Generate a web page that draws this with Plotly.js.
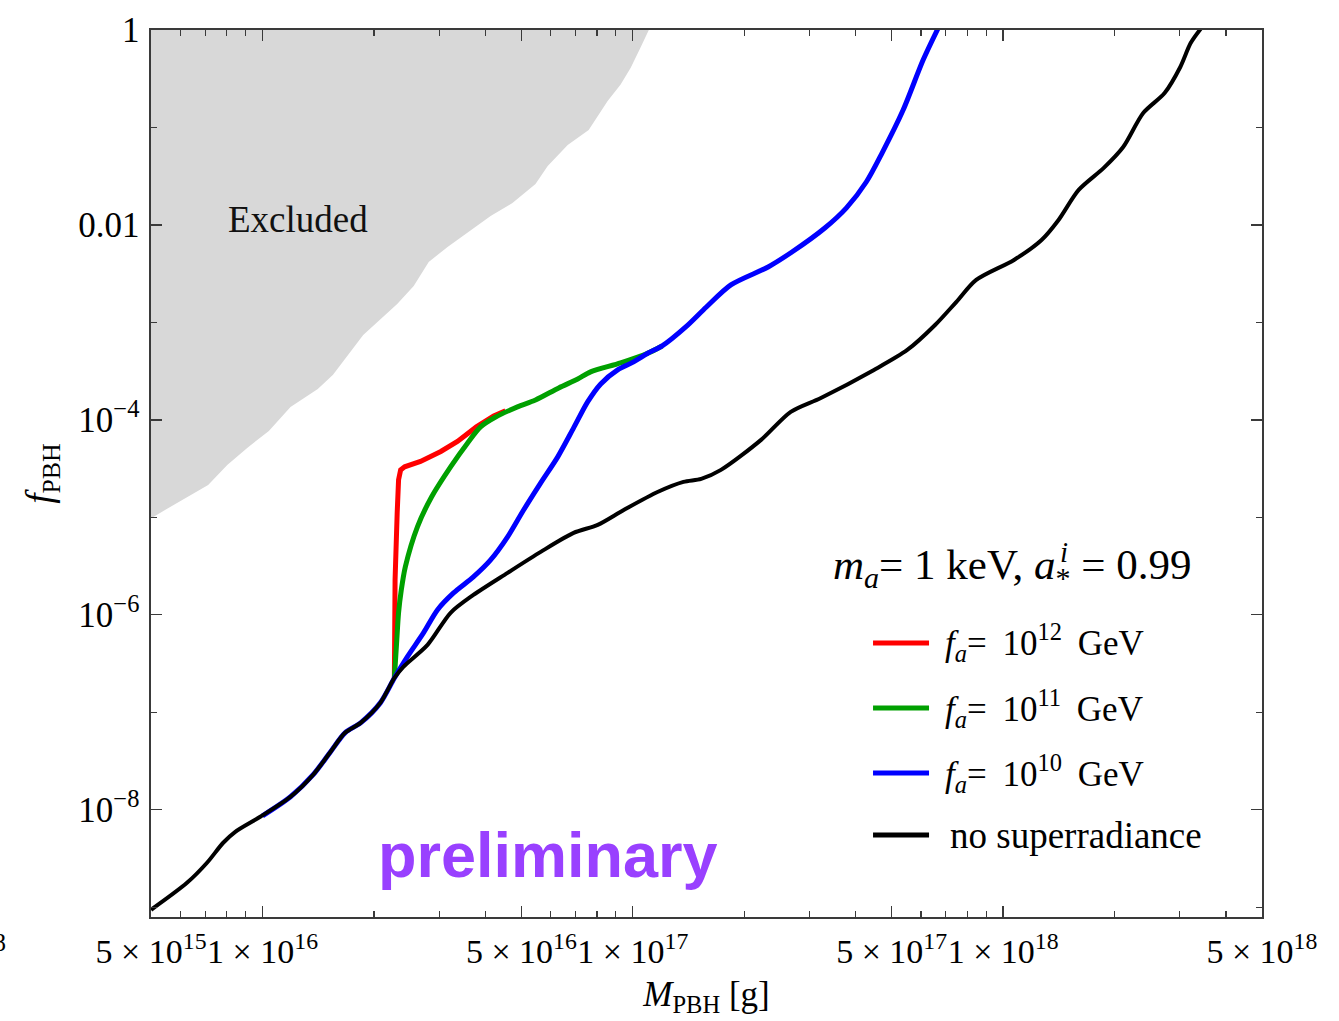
<!DOCTYPE html>
<html>
<head>
<meta charset="utf-8">
<script src="https://cdn.plot.ly/plotly-3.0.1.min.js"></script>
<style>
  html, body { margin: 0; padding: 0; background: #ffffff; }
  #plot { width: 1339px; height: 1021px; }
</style>
</head>
<body>
<div id="plot"></div>
<script>
// PBH abundance bound vs. mass, m_a = 1 keV, a*_i = 0.99

// no superradiance
const massNoSR = [5.0e15, 6.25e15, 7.08e15, 7.83e15, 8.44e15, 9.86e15, 1.19e16, 1.37e16, 1.52e16, 1.67e16,
  1.84e16, 2.08e16, 2.27e16, 2.40e16, 2.79e16, 3.22e16, 3.71e16, 4.59e16, 5.64e16, 6.92e16,
  8.04e16, 9.45e16, 1.17e17, 1.37e17, 1.53e17, 1.73e17, 2.22e17, 2.67e17, 3.22e17, 4.48e17,
  5.51e17, 6.55e17, 7.47e17, 8.46e17, 1.07e18, 1.27e18, 1.41e18, 1.60e18, 1.87e18, 2.11e18,
  2.39e18, 2.73e18, 3.01e18, 3.21e18, 3.43e18];
const fNoSR = [9.42e-10, 1.78e-9, 2.86e-9, 4.59e-9, 5.94e-9, 8.48e-9, 1.36e-8, 2.29e-8, 3.85e-8, 6.16e-8,
  7.80e-8, 1.25e-7, 2.25e-7, 2.93e-7, 4.92e-7, 1.05e-6, 1.60e-6, 2.70e-6, 4.43e-6, 6.93e-6,
  8.38e-6, 1.19e-5, 1.83e-5, 2.31e-5, 2.48e-5, 3.07e-5, 6.24e-5, 1.21e-4, 1.68e-4, 3.26e-4,
  5.22e-4, 9.42e-4, 1.62e-3, 2.73e-3, 4.38e-3, 7.02e-3, 1.12e-2, 2.29e-2, 3.85e-2, 6.31e-2,
  0.141, 0.226, 0.418, 0.735, 1.05];

// f_a = 1e10 GeV
const massFa10 = [1.00e16, 1.19e16, 1.37e16, 1.52e16, 1.67e16, 1.84e16, 2.08e16, 2.27e16, 2.46e16, 2.72e16,
  2.97e16, 3.28e16, 3.71e16, 4.13e16, 4.59e16, 5.07e16, 5.64e16, 6.27e16, 6.92e16, 7.55e16,
  8.19e16, 9.10e16, 1.005e17, 1.10e17, 1.20e17, 1.39e17, 1.58e17, 1.84e17, 2.32e17, 2.69e17,
  3.30e17, 3.77e17, 4.27e17, 4.71e17, 5.37e17, 6.08e17, 6.68e17];
const fFa10 = [8.68e-9, 1.36e-8, 2.29e-8, 3.85e-8, 6.16e-8, 7.80e-8, 1.25e-7, 2.25e-7, 3.71e-7, 6.53e-7,
  1.13e-6, 1.68e-6, 2.45e-6, 3.66e-6, 6.31e-6, 1.19e-5, 2.26e-5, 4.18e-5, 8.28e-5, 1.53e-4,
  2.34e-4, 3.26e-4, 3.94e-4, 4.86e-4, 5.74e-4, 8.99e-4, 1.44e-3, 2.43e-3, 3.71e-3, 5.28e-3,
  9.31e-3, 1.49e-2, 2.76e-2, 5.47e-2, 0.151, 0.492, 1.05];

// f_a = 1e11 GeV
const massFa11 = [2.27e16, 2.30e16, 2.33e16, 2.37e16, 2.43e16, 2.62e16, 2.86e16, 3.22e16, 3.58e16, 3.88e16,
  4.26e16, 4.88e16, 5.46e16, 6.31e16, 7.10e16, 7.69e16, 9.27e16, 1.10e17, 1.20e17];
const fFa11 = [2.25e-7, 4.92e-7, 1.05e-6, 1.80e-6, 3.11e-6, 8.00e-6, 1.62e-5, 3.30e-5, 5.81e-5, 8.48e-5,
  1.07e-4, 1.36e-4, 1.60e-4, 2.13e-4, 2.63e-4, 3.11e-4, 3.85e-4, 4.86e-4, 5.74e-4];

// f_a = 1e12 GeV
const massFa12 = [2.27e16, 2.28e16, 2.31e16, 2.33e16, 2.36e16, 2.42e16, 2.67e16, 3.03e16, 3.36e16, 3.78e16,
  4.21e16, 4.53e16];
const fFa12 = [2.25e-7, 2.29e-6, 1.11e-5, 2.43e-5, 3.07e-5, 3.30e-5, 3.75e-5, 4.75e-5, 6.01e-5, 8.48e-5,
  1.10e-4, 1.24e-4];

// boundary of the excluded region
const massExcl = [4.82e15, 5.07e15, 5.63e15, 6.38e15, 7.13e15, 8.03e15, 9.09e15, 1.04e16, 1.19e16, 1.41e16,
  1.55e16, 1.87e16, 2.31e16, 2.56e16, 2.81e16, 3.16e16, 3.65e16, 4.13e16, 4.73e16, 5.46e16,
  5.89e16, 6.67e16, 7.60e16, 8.55e16, 9.27e16, 9.87e16, 1.05e17, 1.10e17, 1.12e17];
const fExcl = [9.2e-6, 1.01e-5, 1.28e-5, 1.70e-5, 2.15e-5, 3.45e-5, 5.16e-5, 7.71e-5, 1.36e-4, 2.08e-4,
  2.90e-4, 7.45e-4, 1.55e-3, 2.37e-3, 4.18e-3, 5.94e-3, 8.89e-3, 1.24e-2, 1.68e-2, 2.63e-2,
  4.03e-2, 6.62e-2, 9.42e-2, 0.187, 0.276, 0.411, 0.665, 1.0, 1.12];

// axis ticks
const xTickVals = [5e15, 1e16, 5e16, 1e17, 5e17, 1e18, 5e18];
const xTickText = ['5 × 10<sup>15</sup>', '1 × 10<sup>16</sup>', '5 × 10<sup>16</sup>', '1 × 10<sup>17</sup>',
  '5 × 10<sup>17</sup>', '1 × 10<sup>18</sup>', '5 × 10<sup>18</sup>'];
const xMinorVals = [6e15, 7e15, 8e15, 9e15, 2e16, 3e16, 4e16, 6e16, 7e16, 8e16, 9e16,
  2e17, 3e17, 4e17, 6e17, 7e17, 8e17, 9e17, 2e18, 3e18, 4e18];
const yTickVals = [1, 1e-2, 1e-4, 1e-6, 1e-8];
const yTickText = ['1', '0.01', '10<sup>−4</sup>', '10<sup>−6</sup>', '10<sup>−8</sup>'];
const yMinorVals = [1e-1, 1e-3, 1e-5, 1e-7, 1e-9];

// legend entries
const SP = ' \u2009';
const legendNames = ['<i>f</i><sub><i>a</i></sub>=' + SP + '10<sup>12</sup>' + SP + 'GeV',
                     '<i>f</i><sub><i>a</i></sub>=' + SP + '10<sup>11</sup>' + SP + 'GeV',
                     '<i>f</i><sub><i>a</i></sub>=' + SP + '10<sup>10</sup>' + SP + 'GeV',
                     'no superradiance'];
const legendColors = ['#ff0000', '#00a000', '#0000ff', '#000000'];

const SERIF = 'Liberation Serif, Times New Roman, serif';
const AX = '#3a3a3a';

const exclX = massExcl.concat([massExcl[0]]);
const exclY = fExcl.concat([fExcl[fExcl.length - 1]]);

const smooth = { shape: 'spline', smoothing: 0.8 };
const traces = [
  { x: exclX, y: exclY, mode: 'lines', fill: 'toself', fillcolor: '#d8d8d8',
    line: { width: 0, color: '#d8d8d8' }, hoverinfo: 'skip', name: 'Excluded' },
  { x: massFa12, y: fFa12, mode: 'lines', line: { color: legendColors[0], width: 5 }, name: 'fa12' },
  { x: massFa11, y: fFa11, mode: 'lines', line: Object.assign({ color: legendColors[1], width: 5 }, smooth), name: 'fa11' },
  { x: massFa10, y: fFa10, mode: 'lines', line: Object.assign({ color: legendColors[2], width: 5 }, smooth), name: 'fa10' },
  { x: massNoSR, y: fNoSR, mode: 'lines', line: Object.assign({ color: legendColors[3], width: 4 }, smooth), name: 'noSR' }
];

// legend drawn in paper coordinates
const legendRows = [0.309, 0.2356, 0.1623, 0.0924];
const shapes = legendRows.map((yy, i) => ({
  type: 'line', xref: 'paper', yref: 'paper', x0: 0.6499, x1: 0.7003, y0: yy, y1: yy,
  line: { color: legendColors[i], width: 5 }
}));

const annotations = legendRows.map((yy, i) => ({
  xref: 'paper', yref: 'paper', x: i === 3 ? 0.7175 : 0.7125, y: yy, xanchor: 'left', yanchor: 'middle',
  text: legendNames[i], showarrow: false,
  font: { family: SERIF, size: i === 3 ? 37 : 35, color: '#000' }
}));

annotations.push(
  { xref: 'paper', yref: 'paper', x: 0.6125, y: 0.3935, xanchor: 'left', yanchor: 'middle', showarrow: false,
    text: '<i>m</i><sub><i>a</i></sub>= 1 keV, <i>a</i><sub>*</sub> = 0.99',
    font: { family: SERIF, size: 43, color: '#000' } },
  { xref: 'paper', yref: 'paper', x: 0.8218, y: 0.4114, xanchor: 'center', yanchor: 'middle', showarrow: false,
    text: '<i>i</i>', font: { family: SERIF, size: 29, color: '#000' } },
  { xref: 'paper', yref: 'paper', x: 0.0675, y: 0.7869, xanchor: 'left', yanchor: 'middle', showarrow: false,
    text: 'Excluded', font: { family: SERIF, size: 37, color: '#111' } },
  { xref: 'paper', yref: 'paper', x: 0.2025, y: 0.0700, xanchor: 'left', yanchor: 'middle', showarrow: false,
    text: '<b>preliminary</b>', font: { family: 'Liberation Sans, Arial, sans-serif', size: 63, color: '#9940ff' } },
  { xref: 'paper', yref: 'paper', x: -0.1287, y: -0.0293, xanchor: 'right', yanchor: 'middle', showarrow: false,
    text: '8', font: { family: SERIF, size: 26, color: '#000' } }
);

const layout = {
  width: 1339, height: 1021,
  margin: { l: 151, r: 77, t: 30, b: 104, pad: 0 },
  paper_bgcolor: '#ffffff', plot_bgcolor: '#ffffff',
  showlegend: false,
  xaxis: {
    type: 'log', range: [Math.log10(5e15) - 0.0002, Math.log10(5e18) + 0.0002],
    tickmode: 'array', tickvals: xTickVals, ticktext: xTickText,
    tickangle: 0, ticklabeloverflow: 'allow',
    ticks: 'inside', ticklen: 11, tickwidth: 1.3, tickcolor: AX,
    minor: { tickmode: 'array', tickvals: xMinorVals, ticks: 'inside', ticklen: 6, tickwidth: 1.2, tickcolor: AX, showgrid: false },
    showline: true, linecolor: AX, linewidth: 1.6, mirror: 'ticks',
    showgrid: false, zeroline: false,
    tickfont: { family: SERIF, size: 34, color: '#000' },
    ticklabelstandoff: 4,
    title: { text: '<i>M</i><sub>PBH</sub> [g]', font: { family: SERIF, size: 35, color: '#000' }, standoff: 12 }
  },
  yaxis: {
    type: 'log', range: [-9.1, 0.0005],
    tickmode: 'array', tickvals: yTickVals, ticktext: yTickText,
    ticks: 'inside', ticklen: 11, tickwidth: 1.3, tickcolor: AX,
    minor: { tickmode: 'array', tickvals: yMinorVals, ticks: 'inside', ticklen: 6, tickwidth: 1.2, tickcolor: AX, showgrid: false },
    showline: true, linecolor: AX, linewidth: 1.6, mirror: 'ticks',
    showgrid: false, zeroline: false,
    tickfont: { family: SERIF, size: 35, color: '#000' },
    ticklabelstandoff: 3,
    title: { text: '<i>f</i><sub>PBH</sub>', font: { family: SERIF, size: 37, color: '#000' }, standoff: 14 }
  },
  shapes: shapes,
  annotations: annotations
};

Plotly.newPlot('plot', traces, layout, { displayModeBar: false, staticPlot: true });
</script>
</body>
</html>
